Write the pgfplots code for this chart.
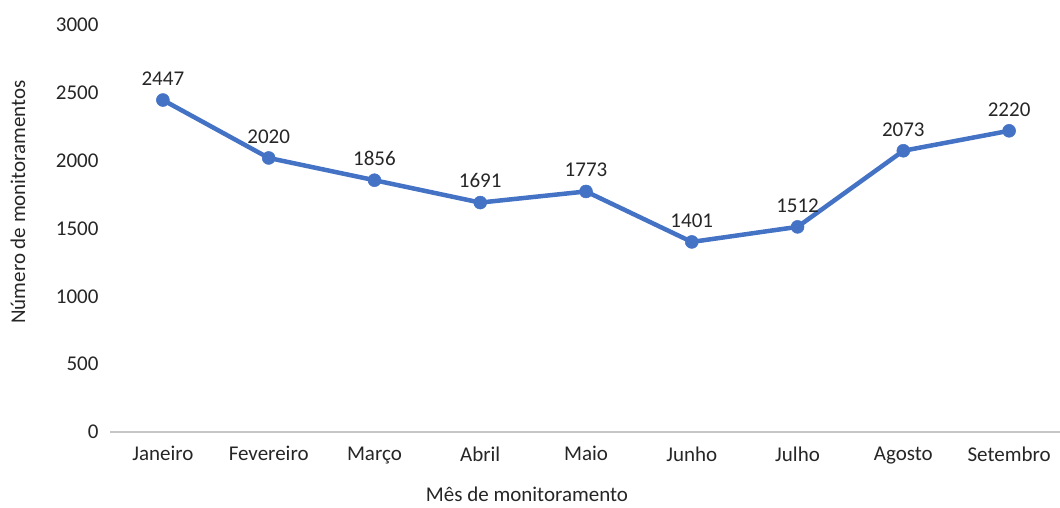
\documentclass[border=0pt]{standalone}
\usepackage{fontspec}
\setmainfont{Carlito}
\usepackage{pgfplots}
\pgfplotsset{compat=1.18}
\definecolor{linha}{HTML}{4472C4}

\begin{document}
\begin{tikzpicture}[x=1pt,y=1pt]
\path[use as bounding box] (0,0) rectangle (1060,507);
\begin{axis}[
    at={(110pt,75pt)}, anchor=south west,
    scale only axis,
    width=952pt, height=407pt,
    xmin=-0.5, xmax=8.5,
    ymin=0, ymax=3000,
    ytick={0,500,...,3000},
    xtick={0,...,8},
    xticklabels={Janeiro,Fevereiro,Março,Abril,Maio,Junho,Julho,Agosto,Setembro},
    axis line style={draw=none},
    tick style={draw=none},
    font=\fontsize{21}{24}\selectfont,
    /pgf/number format/assume math mode=true,
    /pgf/number format/1000 sep={},
    yticklabel style={xshift=-8pt, text=black!85},
    xticklabel style={yshift=-11pt, text=black!85},
    clip=false,
]
\draw[gray!45, line width=1.2pt] (rel axis cs:0,0) -- (rel axis cs:1,0);
\addplot[color=linha, line width=4.5pt, mark=*, mark size=6.5pt,
    mark options={line width=0.5pt},
    nodes near coords, point meta=explicit symbolic,
    every node near coord/.style={text=black!85, font=\fontsize{21}{24}\selectfont, yshift=11pt}]
  coordinates {
    (0,2447)[2447] (1,2020)[2020] (2,1856)[1856] (3,1691)[1691] (4,1773)[1773]
    (5,1401)[1401] (6,1512)[1512] (7,2073)[2073] (8,2220)[2220]
};
\end{axis}
\node[rotate=90, text=black!85, font=\fontsize{21}{24}\selectfont] at (18,305) {Número de monitoramentos};
\node[text=black!85, font=\fontsize{21}{24}\selectfont] at (527,13) {Mês de monitoramento};
\end{tikzpicture}
\end{document}
